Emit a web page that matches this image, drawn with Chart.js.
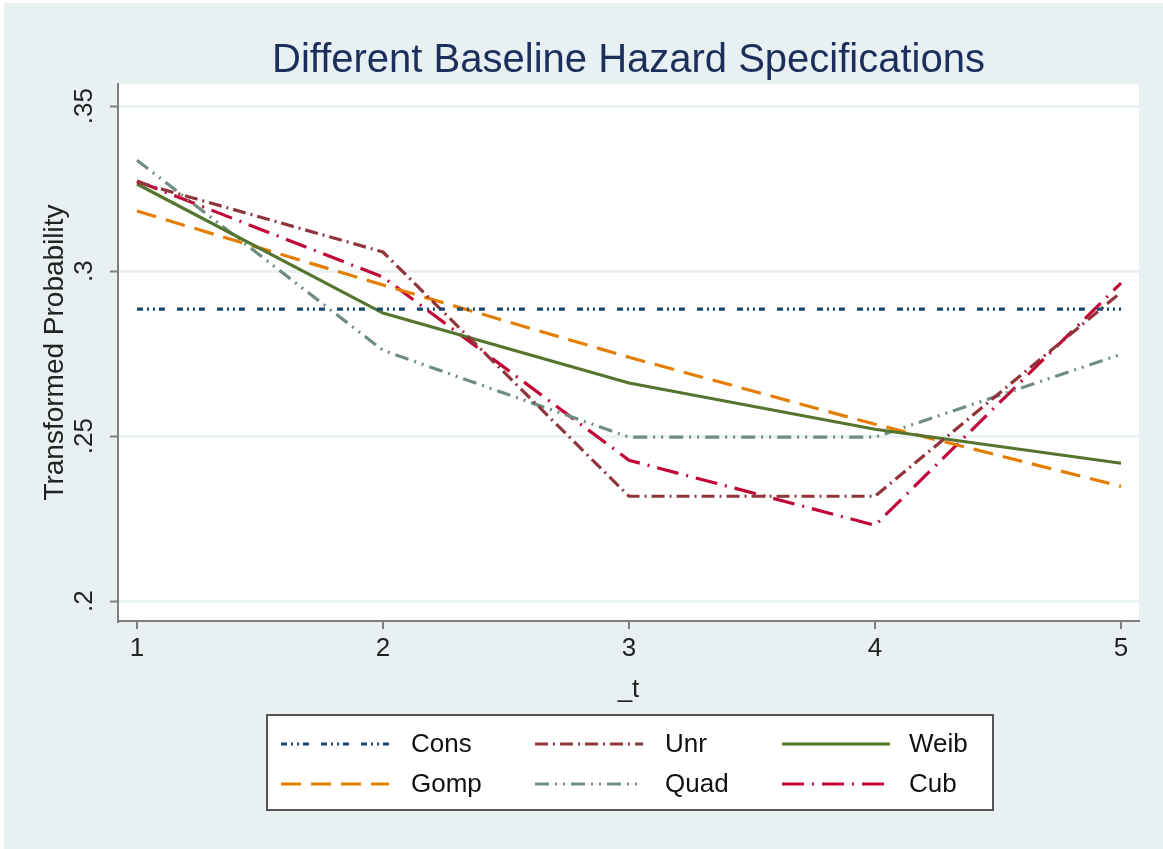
<!DOCTYPE html>
<html>
<head>
<meta charset="utf-8">
<script src="https://cdn.jsdelivr.net/npm/chart.js@4"></script>
<style>
  html, body { margin: 0; padding: 0; background: #ffffff; }
  #wrap { width: 1163px; height: 849px; }
</style>
</head>
<body>
<div id="wrap"><canvas id="hazChart" width="1163" height="849"></canvas></div>
<script>
// Values
const periods = [1, 2, 3, 4, 5];
const consVals = [0.2885, 0.2885, 0.2885, 0.2885, 0.2885];
const unrVals  = [0.3270, 0.3058, 0.2318, 0.2318, 0.2936];
const weibVals = [0.3264, 0.2873, 0.2661, 0.2521, 0.2418];
const gompVals = [0.3182, 0.2958, 0.2739, 0.2536, 0.2348];
const quadVals = [0.3336, 0.2760, 0.2497, 0.2497, 0.2748];
const cubVals  = [0.3273, 0.2982, 0.2427, 0.2230, 0.2964];
const yTicks = [0.2, 0.25, 0.3, 0.35];
const seriesNames = ["Cons", "Unr", "Weib", "Gomp", "Quad", "Cub"];

const FONT = "'Liberation Sans', Arial, Helvetica, sans-serif";
const BG = "#e8f0f2";
const TXT = 26;

function toPoints(vals) {
    return periods.map((t, i) => ({ x: t, y: vals[i] }));
}

// Stata s2color look
const styles = [
    { color: "#1a476f", dash: [6, 4, 2, 4, 2, 4, 6, 12] },
    { color: "#90353b", dash: [13, 5, 2, 5] },
    { color: "#55752f", dash: [] },
    { color: "#e37e00", dash: [20, 10] },
    { color: "#6e8e84", dash: [14, 6, 2, 6, 2, 6] },
    { color: "#c10534", dash: [22, 8, 2, 8] },
];
const allVals = [consVals, unrVals, weibVals, gompVals, quadVals, cubVals];

const datasets = seriesNames.map((name, i) => ({
    label: name,
    data: toPoints(allVals[i]),
    borderColor: styles[i].color,
    borderDash: styles[i].dash,
    borderWidth: 3.2,
    borderCapStyle: "butt",
    pointRadius: 0,
    tension: 0,
    fill: false,
}));

const backdrop = {
    id: "backdrop",
    beforeDraw(chart) {
        const ctx = chart.ctx;
        const a = chart.chartArea;
        ctx.save();
        ctx.fillStyle = BG;
        ctx.fillRect(4, 3, 1159, 846);
        ctx.fillStyle = "#ffffff";
        ctx.fillRect(a.left, a.top, a.right - a.left, a.bottom - a.top);
        ctx.fillStyle = "#1c2e5c";
        ctx.font = "40px " + FONT;
        ctx.textAlign = "center";
        ctx.textBaseline = "alphabetic";
        ctx.fillText("Different Baseline Hazard Specifications", (a.left + a.right) / 2, 72);
        ctx.restore();
    },
};

const stataLegend = {
    id: "stataLegend",
    afterDraw(chart) {
        const ctx = chart.ctx;
        ctx.save();
        ctx.fillStyle = "#ffffff";
        ctx.fillRect(267, 715, 726, 95);
        ctx.strokeStyle = "#555555";
        ctx.lineWidth = 2;
        ctx.strokeRect(267, 715, 726, 95);

        const rowY = [744, 784];
        const lineX = [281, 535, 782];
        const textX = [411, 665, 909];
        ctx.font = TXT + "px " + FONT;
        ctx.textBaseline = "middle";
        chart.data.datasets.forEach((ds, i) => {
            const r = Math.floor(i / 3), c = i % 3;
            ctx.beginPath();
            ctx.setLineDash(ds.borderDash);
            ctx.strokeStyle = ds.borderColor;
            ctx.lineWidth = ds.borderWidth;
            ctx.lineCap = "butt";
            ctx.moveTo(lineX[c], rowY[r]);
            ctx.lineTo(lineX[c] + 108, rowY[r]);
            ctx.stroke();
            ctx.setLineDash([]);
            ctx.fillStyle = "#111111";
            ctx.textAlign = "left";
            ctx.fillText(ds.label, textX[c], rowY[r] + 1);
        });
        ctx.restore();
    },
};

new Chart(document.getElementById("hazChart"), {
    type: "line",
    data: { datasets: datasets },
    plugins: [backdrop, stataLegend],
    options: {
        responsive: false,
        animation: false,
        layout: { padding: { top: 84, left: 0, right: 24, bottom: 138 } },
        plugins: {
            legend: { display: false },
            tooltip: { enabled: false },
            title: { display: false },
        },
        scales: {
            x: {
                type: "linear",
                min: 0.923,
                max: 5.073,
                afterBuildTicks: (scale) => {
                    scale.ticks = periods.map((v) => ({ value: v }));
                },
                afterFit: (scale) => { scale.height = 90; },
                grid: {
                    drawOnChartArea: false,
                    color: "#7f7f7f",
                    tickLength: 8,
                    lineWidth: 2,
                },
                border: { color: "#7f7f7f", width: 2 },
                ticks: {
                    color: "#222222",
                    font: { family: FONT, size: TXT },
                    padding: 4,
                    maxRotation: 0,
                    callback: (v) => String(v),
                },
                title: {
                    display: true,
                    text: "_t",
                    color: "#222222",
                    font: { family: FONT, size: TXT },
                    padding: { top: 0, bottom: 6 },
                },
            },
            y: {
                type: "linear",
                min: 0.194,
                max: 0.3567,
                afterBuildTicks: (scale) => {
                    scale.ticks = yTicks.map((v) => ({ value: v }));
                },
                afterFit: (scale) => { scale.width = 118; },
                grid: {
                    color: "#eaf2f3",
                    lineWidth: 3,
                    tickColor: "#7f7f7f",
                    tickWidth: 2,
                    tickLength: 8,
                },
                border: { color: "#7f7f7f", width: 2 },
                ticks: {
                    color: "#222222",
                    font: { family: FONT, size: TXT },
                    padding: 7,
                    minRotation: 90,
                    maxRotation: 90,
                    crossAlign: "center",
                    callback: (v) => String(+v.toFixed(2)).replace(/^0\./, "."),
                },
                title: {
                    display: true,
                    text: "Transformed Probability",
                    color: "#222222",
                    font: { family: FONT, size: 28 },
                    padding: { top: 38, bottom: 0 },
                },
            },
        },
    },
});
</script>
</body>
</html>
